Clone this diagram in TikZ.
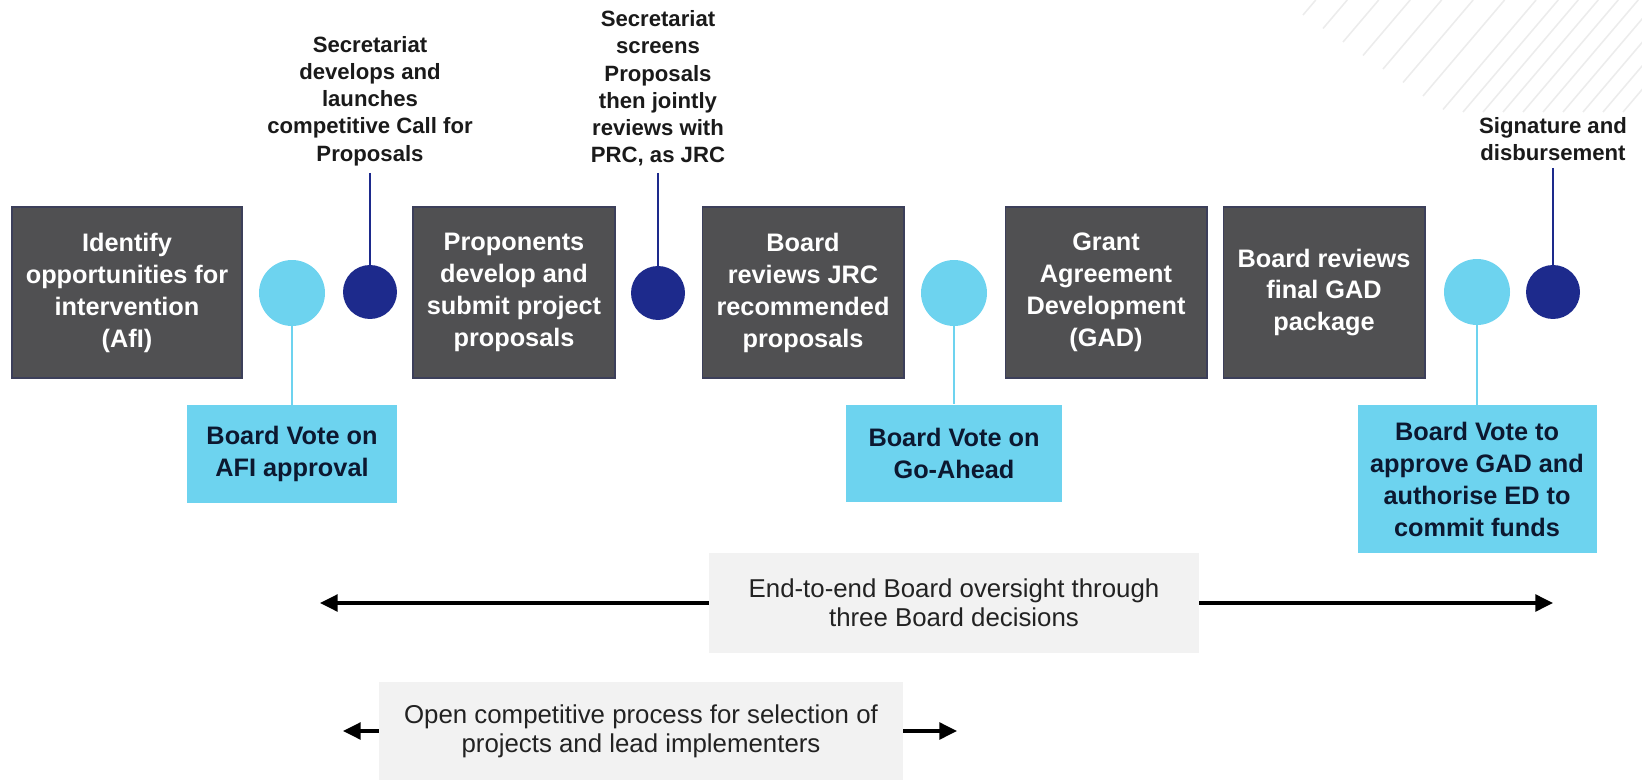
\documentclass[tikz,border=0pt]{standalone}
\usepackage{fontspec}
\setmainfont{Liberation Sans}
\usetikzlibrary{arrows.meta,positioning}

\definecolor{stepgray}{HTML}{505052}
\definecolor{stepedge}{HTML}{3C3F5A}
\definecolor{voteblue}{HTML}{6DD3EF}
\definecolor{votetext}{HTML}{0C1830}
\definecolor{navy}{HTML}{1D2A8C}
\definecolor{notetext}{HTML}{1A1A1A}
\definecolor{bandgray}{HTML}{F2F2F2}
\definecolor{bandtext}{HTML}{222222}
\definecolor{stripe}{HTML}{ECECEC}

\begin{document}
\begin{tikzpicture}[x=0.02cm,y=-0.02cm,>={Triangle[length=10pt,width=9.5pt]},
  step node/.style={rectangle,fill=stepgray,draw=stepedge,line width=0.6pt,text=white,align=center,
    minimum width=4.04cm,minimum height=3.42cm,font=\fontsize{14.4}{18.2}\selectfont\bfseries},
  vote node/.style={rectangle,fill=voteblue,text=votetext,align=center,minimum height=1.96cm,
    font=\fontsize{14.4}{18.2}\selectfont\bfseries},
  light dot/.style={circle,fill=voteblue,minimum size=1.32cm,inner sep=0pt},
  dark dot/.style={circle,fill=navy,minimum size=1.08cm,inner sep=0pt},
  note node/.style={align=center,text=notetext,inner sep=4pt,font=\fontsize{12.6}{15.4}\selectfont\bfseries},
  band node/.style={rectangle,fill=bandgray,text=bandtext,align=center,minimum height=1.96cm,
    font=\fontsize{14.7}{16.5}\selectfont}]

  \useasboundingbox (0,0) rectangle (1642,780);

  % stripes in the corner
  \begin{scope}
    \clip (0,0) rectangle (1642,780);
    \foreach \i in {0,...,16}{
      \pgfmathsetmacro{\sx}{1303+20*\i}
      \pgfmathsetmacro{\sy}{min(15+13.5*\i,112)}
      \draw[stripe,line width=0.9pt] (\sx,\sy) -- ++(0.85*\sy,-\sy);
    }
  \end{scope}

  \node[step node,minimum width=4.6cm] (1) at (127,292.5) {Identify\\opportunities for\\intervention\\(AfI)};
  \node[step node] (2) at (514,292.5) {Proponents\\develop and\\submit project\\proposals};
  \node[step node] (3) at (803,292.5) {Board\\reviews JRC\\recommended\\proposals};
  \node[step node] (4) at (1106,292.5) {Grant\\Agreement\\Development\\(GAD)};
  \node[step node] (5) at (1324,292.5) {Board reviews\\final GAD\\package};

  \node[light dot] (l1) at (292,293) {};
  \node[dark dot] (d1) at (370,292) {};
  \node[dark dot] (d2) at (658,293) {};
  \node[light dot] (l2) at (954,293) {};
  \node[light dot] (l3) at (1477,292) {};
  \node[dark dot] (d3) at (1553,292) {};

  \node[vote node,minimum width=4.22cm] (v1) at (292,454) {Board Vote on\\AFI approval};
  \node[vote node,minimum width=4.34cm] (v2) at (954,453.5) {Board Vote on\\Go-Ahead};
  \node[vote node,minimum width=4.78cm,minimum height=2.96cm] (v3) at (1477,479) {Board Vote to\\approve GAD and\\authorise ED to\\commit funds};

  \node[note node,anchor=south] (n1) at (370,173) {Secretariat\\develops and\\launches\\competitive Call for\\Proposals};
  \node[note node,anchor=south] (n2) at (658,173) {Secretariat\\screens\\Proposals\\then jointly\\reviews with\\PRC, as JRC};
  \node[note node,anchor=south] (n3) at (1553,168) {Signature and\\disbursement};

  \node[band node,minimum width=9.8cm,minimum height=2.02cm] (b1) at (954,603) {End-to-end Board oversight through\\three Board decisions};
  \node[band node,minimum width=10.48cm] (b2) at (641,731) {Open competitive process for selection of\\projects and lead implementers};
  \coordinate (e1) at (320,603);
  \coordinate (e2) at (1553,603);
  \coordinate (e3) at (343,731);
  \coordinate (e4) at (957,731);

  \path[navy,line width=1.2pt]
    (n1) edge (d1)
    (n2) edge (d2)
    (n3) edge (d3);
  \path[voteblue,line width=1.6pt]
    (l1) edge (v1)
    (l2) edge (v2)
    (l3) edge (v3);
  \path[black,line width=1.8pt,->]
    (b1) edge (e1)
         edge (e2)
    (b2) edge (e3)
         edge (e4);
\end{tikzpicture}
\end{document}
